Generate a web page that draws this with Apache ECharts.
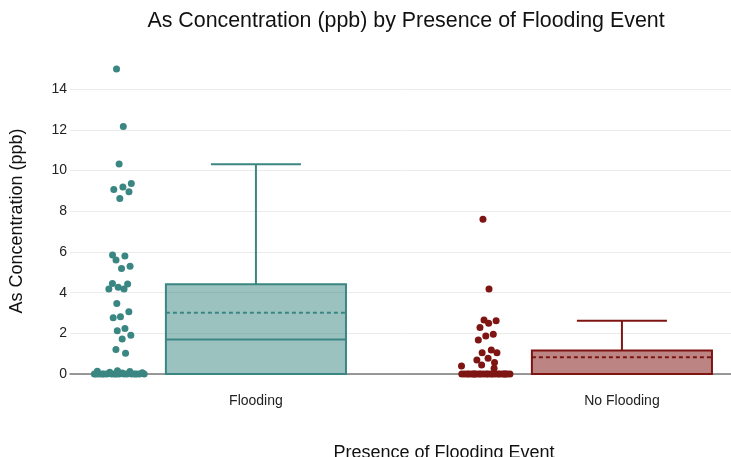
<!DOCTYPE html>
<html>
<head>
<meta charset="utf-8">
<script src="https://cdn.jsdelivr.net/npm/echarts@6/dist/echarts.min.js"></script>
<style>
  html, body { margin: 0; padding: 0; background: #fff; }
  #chart { width: 731px; height: 457px; }
</style>
</head>
<body>
<div id="chart"></div>
<script>
// Arsenic concentration (ppb) per sample, grouped by flooding event
const categories = ['Flooding', 'No Flooding'];

const floodingValues = [
  15.0, 12.17, 10.32, 9.37, 9.2, 9.07, 8.96, 8.63,
  5.85, 5.80, 5.60, 5.30, 5.19, 4.45, 4.42, 4.26, 4.18, 4.18,
  3.47, 3.06, 2.82, 2.77, 2.24, 2.13, 1.90, 1.72, 1.21, 1.02,
  0.16, 0.14, 0.12, 0.08, 0.06, 0.05,
  0, 0, 0, 0, 0, 0, 0, 0, 0, 0, 0, 0, 0, 0, 0, 0, 0
];

const noFloodingValues = [
  7.61, 4.18, 2.65, 2.62, 2.49, 2.29, 1.96, 1.87, 1.67,
  1.18, 1.05, 1.05, 0.77, 0.69, 0.56, 0.44, 0.39, 0.28,
  0, 0, 0, 0, 0, 0, 0, 0, 0, 0, 0, 0, 0, 0, 0, 0, 0, 0, 0, 0, 0, 0, 0
];

// Box summary per category: lower fence, Q1, median, Q3, upper fence, mean
const boxLow = [0, 0];
const boxQ1 = [0, 0];
const boxMedian = [1.70, 0];
const boxQ3 = [4.41, 1.15];
const boxHigh = [10.31, 2.62];
const boxMean = [3.01, 0.82];

const yTicks = [0, 2, 4, 6, 8, 10, 12, 14];

// ---- styling ----
const lineColors = ['#3a8682', '#7e1513'];
const fillColors = ['rgba(58,134,130,0.5)', 'rgba(126,21,19,0.52)'];
const FONT = 'Liberation Sans, Arial, Helvetica, sans-serif';

const BOX_HALF = 0.246;     // half box width in category units
const CAP_HALF = 0.123;     // half whisker-cap width
const POINT_OFFSET = -0.37; // points sit to the left of the box
const JITTER_HALF = 0.072;

// deterministic jitter, wider where points are dense
function jitterPoints(values, catIndex) {
  const counts = values.map(v => values.filter(w => Math.abs(w - v) <= 0.5).length);
  const maxCount = Math.max.apply(null, counts);
  return values.map((v, i) => {
    const u = ((i * 0.6180339887 + 0.137) % 1) * 2 - 1;
    const amp = JITTER_HALF * Math.sqrt(counts[i] / maxCount);
    return [catIndex + POINT_OFFSET + u * amp, v];
  });
}

const boxData = categories.map((c, i) =>
  [i, boxLow[i], boxQ1[i], boxMedian[i], boxQ3[i], boxHigh[i], boxMean[i]]);

function renderBox(params, api) {
  const i = api.value(0);
  const low = api.value(1), q1 = api.value(2), med = api.value(3),
        q3 = api.value(4), high = api.value(5), mean = api.value(6);
  const col = lineColors[i];
  const pL = api.coord([i - BOX_HALF, q3]);
  const pR = api.coord([i + BOX_HALF, q1]);
  const cx = api.coord([i, 0])[0];
  const cL = api.coord([i - CAP_HALF, 0])[0];
  const cR = api.coord([i + CAP_HALF, 0])[0];
  const y = v => api.coord([i, v])[1];
  const lineStyle = { stroke: col, lineWidth: 2, fill: null };
  const children = [
    { type: 'rect', shape: { x: pL[0], y: pL[1], width: pR[0] - pL[0], height: pR[1] - pL[1] },
      style: { fill: fillColors[i], stroke: col, lineWidth: 2 } },
    { type: 'line', shape: { x1: pL[0], y1: y(med), x2: pR[0], y2: y(med) }, style: lineStyle },
    { type: 'line', shape: { x1: pL[0], y1: y(mean), x2: pR[0], y2: y(mean) },
      style: { stroke: col, lineWidth: 2, lineDash: [4, 3] } },
    { type: 'line', shape: { x1: cx, y1: y(q3), x2: cx, y2: y(high) }, style: lineStyle },
    { type: 'line', shape: { x1: cL, y1: y(high), x2: cR, y2: y(high) }, style: lineStyle }
  ];
  if (q1 > low) {
    children.push({ type: 'line', shape: { x1: cx, y1: y(q1), x2: cx, y2: y(low) }, style: lineStyle });
    children.push({ type: 'line', shape: { x1: cL, y1: y(low), x2: cR, y2: y(low) }, style: lineStyle });
  }
  return { type: 'group', children: children };
}

const chart = echarts.init(document.getElementById('chart'), null, { renderer: 'canvas' });

chart.setOption({
  backgroundColor: '#fff',
  animation: false,
  title: [
    { text: 'As Concentration (ppb) by Presence of Flooding Event',
      left: 401, top: 6, textAlign: 'center',
      textStyle: { fontFamily: FONT, fontSize: 21.4, fontWeight: 'normal', color: '#111' } },
    { text: 'Presence of Flooding Event',
      left: 439, top: 439, textAlign: 'center',
      textStyle: { fontFamily: FONT, fontSize: 18, fontWeight: 'normal', color: '#111' } }
  ],
  graphic: [
    { type: 'text', x: 17, y: 221, rotation: Math.PI / 2,
      style: { text: 'As Concentration (ppb)', fontFamily: FONT, fontSize: 18,
               fill: '#111', align: 'center', verticalAlign: 'middle' } }
  ],
  grid: { left: 70, right: 0, top: 48.6, bottom: 83 },
  xAxis: {
    type: 'value',
    min: -0.508,
    max: 1.298,
    splitLine: { show: false },
    axisTick: { show: false },
    axisLine: { show: true, lineStyle: { color: '#7a7a7a', width: 1.5 } },
    axisLabel: {
      customValues: [0, 1],
      formatter: v => categories[Math.round(v)] || '',
      margin: 20,
      fontFamily: FONT, fontSize: 14, color: '#222'
    }
  },
  yAxis: {
    type: 'value',
    min: 0,
    max: 16,
    interval: 2,
    axisLine: { show: false },
    axisTick: { show: false },
    axisLabel: {
      margin: 3,
      showMaxLabel: false,
      formatter: v => (yTicks.indexOf(v) >= 0 ? String(v) : ''),
      fontFamily: FONT, fontSize: 14, color: '#222'
    },
    splitLine: { show: true, showMaxLine: false, lineStyle: { color: '#ebebeb', width: 1 } }
  },
  series: [
    { type: 'custom', name: 'box', data: boxData, renderItem: renderBox, z: 2,
      encode: { x: 0, y: [1, 2, 3, 4, 5, 6] } },
    { type: 'scatter', name: categories[0], data: jitterPoints(floodingValues, 0),
      symbolSize: 7, clip: false, z: 3, itemStyle: { color: lineColors[0], opacity: 1 } },
    { type: 'scatter', name: categories[1], data: jitterPoints(noFloodingValues, 1),
      symbolSize: 7, clip: false, z: 3, itemStyle: { color: lineColors[1], opacity: 1 } }
  ]
});
</script>
</body>
</html>
